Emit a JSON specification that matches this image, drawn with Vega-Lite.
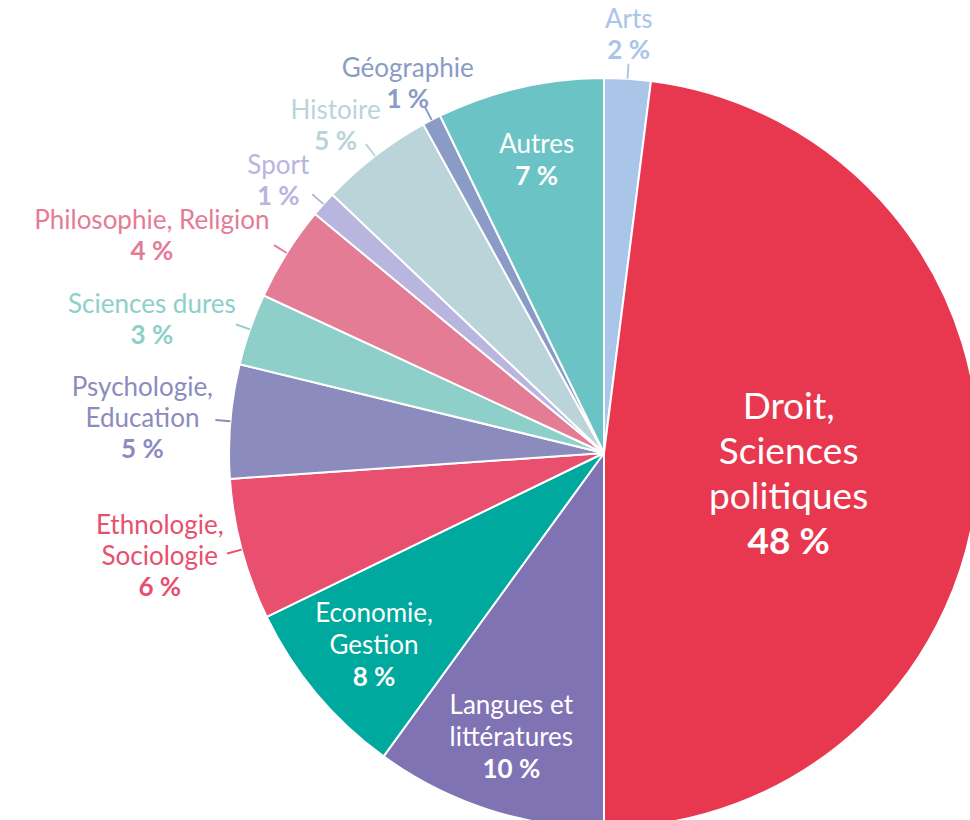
{
  "$schema": "https://vega.github.io/schema/vega-lite/v6.json",
  "width": 1208,
  "height": 906,
  "autosize": {"type": "none"},
  "padding": 0,
  "background": "white",
  "config": {"view": {"stroke": null}, "font": "Lato"},
  "data": {
    "values": [
      {"cat": "Arts", "lines": ["Arts"], "pct": "2 %", "value": 2.0},
      {"cat": "Droit, Sciences politiques", "lines": ["Droit,", "Sciences", "politiques"], "pct": "48 %", "value": 48.0},
      {"cat": "Langues et littératures", "lines": ["Langues et", "littératures"], "pct": "10 %", "value": 10.0},
      {"cat": "Economie, Gestion", "lines": ["Economie,", "Gestion"], "pct": "8 %", "value": 7.8},
      {"cat": "Ethnologie, Sociologie", "lines": ["Ethnologie,", "Sociologie"], "pct": "6 %", "value": 6.1},
      {"cat": "Psychologie, Education", "lines": ["Psychologie,", "Education"], "pct": "5 %", "value": 4.9},
      {"cat": "Sciences dures", "lines": ["Sciences dures"], "pct": "3 %", "value": 3.1},
      {"cat": "Philosophie, Religion", "lines": ["Philosophie, Religion"], "pct": "4 %", "value": 4.1},
      {"cat": "Sport", "lines": ["Sport"], "pct": "1 %", "value": 1.1},
      {"cat": "Histoire", "lines": ["Histoire"], "pct": "5 %", "value": 4.9},
      {"cat": "Géographie", "lines": ["Géographie"], "pct": "1 %", "value": 0.8},
      {"cat": "Autres", "lines": ["Autres"], "pct": "7 %", "value": 7.2}
    ]
  },
  "transform": [
    {"window": [{"op": "sum", "field": "value", "as": "v1"}], "frame": [null, 0]},
    {"calculate": "datum.v1 - datum.value", "as": "v0"},
    {"calculate": "(datum.v0 + datum.v1) / 2", "as": "m"},
    {"calculate": "datum.m - 0.04", "as": "t0"},
    {"calculate": "datum.m + 0.04", "as": "t1"},
    {"calculate": "sin(datum.m / 100 * 2 * PI)", "as": "s"},
    {"calculate": "cos(datum.m / 100 * 2 * PI)", "as": "c"},
    {"calculate": "datum.value >= 7", "as": "inside"},
    {"calculate": "datum.value > 40 ? 45 : (datum.value >= 7 ? 32 : 31)", "as": "lh"},
    {"calculate": "length(datum.lines)", "as": "k"},
    {"calculate": "length(datum.lines) > 1 ? max(length(datum.lines[0]), length(datum.lines[1])) : length(datum.lines[0])", "as": "ml"},
    {"calculate": "max(abs(datum.s), abs(datum.c))", "as": "mx"},
    {"calculate": "(datum.s < 0 ? -1 : 1) * pow(abs(datum.s) / datum.mx, 2)", "as": "fx"},
    {"calculate": "datum.inside ? (datum.value > 40 ? 185 : 300) * datum.s : 392 * datum.s + datum.fx * (datum.ml * 11 / 2 + 5)", "as": "cx"},
    {"calculate": "datum.inside ? (datum.value > 40 ? -185 * datum.c + 11 : -300 * datum.c) : -392 * datum.c - datum.c * abs(datum.c) * ((datum.k + 1) * datum.lh - 10) / 2", "as": "cy"}
  ],
  "layer": [
    {
      "mark": {"type": "arc", "outerRadius": 375, "stroke": "white", "strokeWidth": 2},
      "encoding": {
        "theta": {"field": "v0", "type": "quantitative", "stack": null, "scale": {"domain": [0, 100]}},
        "theta2": {"field": "v1"},
        "color": {
          "field": "cat", "type": "nominal", "legend": null,
          "scale": {
            "domain": ["Arts", "Droit, Sciences politiques", "Langues et littératures", "Economie, Gestion", "Ethnologie, Sociologie", "Psychologie, Education", "Sciences dures", "Philosophie, Religion", "Sport", "Histoire", "Géographie", "Autres"],
            "range": ["#A9C5E8", "#E8384F", "#8073B3", "#00A99D", "#E94F6E", "#8C8BBE", "#8ECFCA", "#E47C95", "#B8B5DE", "#BAD4DA", "#8A9BC6", "#6CC3C6"]
          }
        }
      }
    },
    {
      "transform": [{"filter": "!datum.inside"}],
      "mark": {"type": "arc", "innerRadius": 375, "outerRadius": 390},
      "encoding": {
        "theta": {"field": "t0", "type": "quantitative", "stack": null},
        "theta2": {"field": "t1"},
        "color": {"field": "cat", "type": "nominal", "legend": null}
      }
    },
    {
      "transform": [
        {"flatten": ["lines"], "as": ["line"]},
        {"window": [{"op": "row_number", "as": "li"}], "groupby": ["cat"]},
        {"calculate": "datum.cx", "as": "lx"},
        {"calculate": "datum.cy + (datum.li - 1 - datum.k / 2) * datum.lh", "as": "ly"},
        {"calculate": "sqrt(datum.lx * datum.lx + datum.ly * datum.ly)", "as": "lr"},
        {"calculate": "(atan2(datum.lx, -datum.ly) / (2 * PI) * 100 + 100) % 100", "as": "lt"}
      ],
      "mark": {"type": "text", "align": "center", "baseline": "middle", "font": "Lato", "fontWeight": "normal"},
      "encoding": {
        "theta": {"field": "lt", "type": "quantitative", "stack": null},
        "radius": {"field": "lr", "type": "quantitative", "scale": {"type": "linear", "zero": true, "domain": [0, 1000], "range": [0, 1000]}},
        "text": {"field": "line"},
        "color": {"condition": {"test": "datum.inside", "value": "white"}, "field": "cat", "type": "nominal", "legend": null},
        "size": {"condition": {"test": "datum.value > 40", "value": 37}, "value": 26}
      }
    },
    {
      "transform": [
        {"calculate": "datum.cx", "as": "lx"},
        {"calculate": "datum.cy + datum.k * datum.lh / 2", "as": "ly"},
        {"calculate": "sqrt(datum.lx * datum.lx + datum.ly * datum.ly)", "as": "lr"},
        {"calculate": "(atan2(datum.lx, -datum.ly) / (2 * PI) * 100 + 100) % 100", "as": "lt"}
      ],
      "mark": {"type": "text", "align": "center", "baseline": "middle", "font": "Lato", "fontWeight": "bold"},
      "encoding": {
        "theta": {"field": "lt", "type": "quantitative", "stack": null},
        "radius": {"field": "lr", "type": "quantitative", "scale": {"type": "linear", "zero": true, "domain": [0, 1000], "range": [0, 1000]}},
        "text": {"field": "pct"},
        "color": {"condition": {"test": "datum.inside", "value": "white"}, "field": "cat", "type": "nominal", "legend": null},
        "size": {"condition": {"test": "datum.value > 40", "value": 37}, "value": 26}
      }
    }
  ]
}
